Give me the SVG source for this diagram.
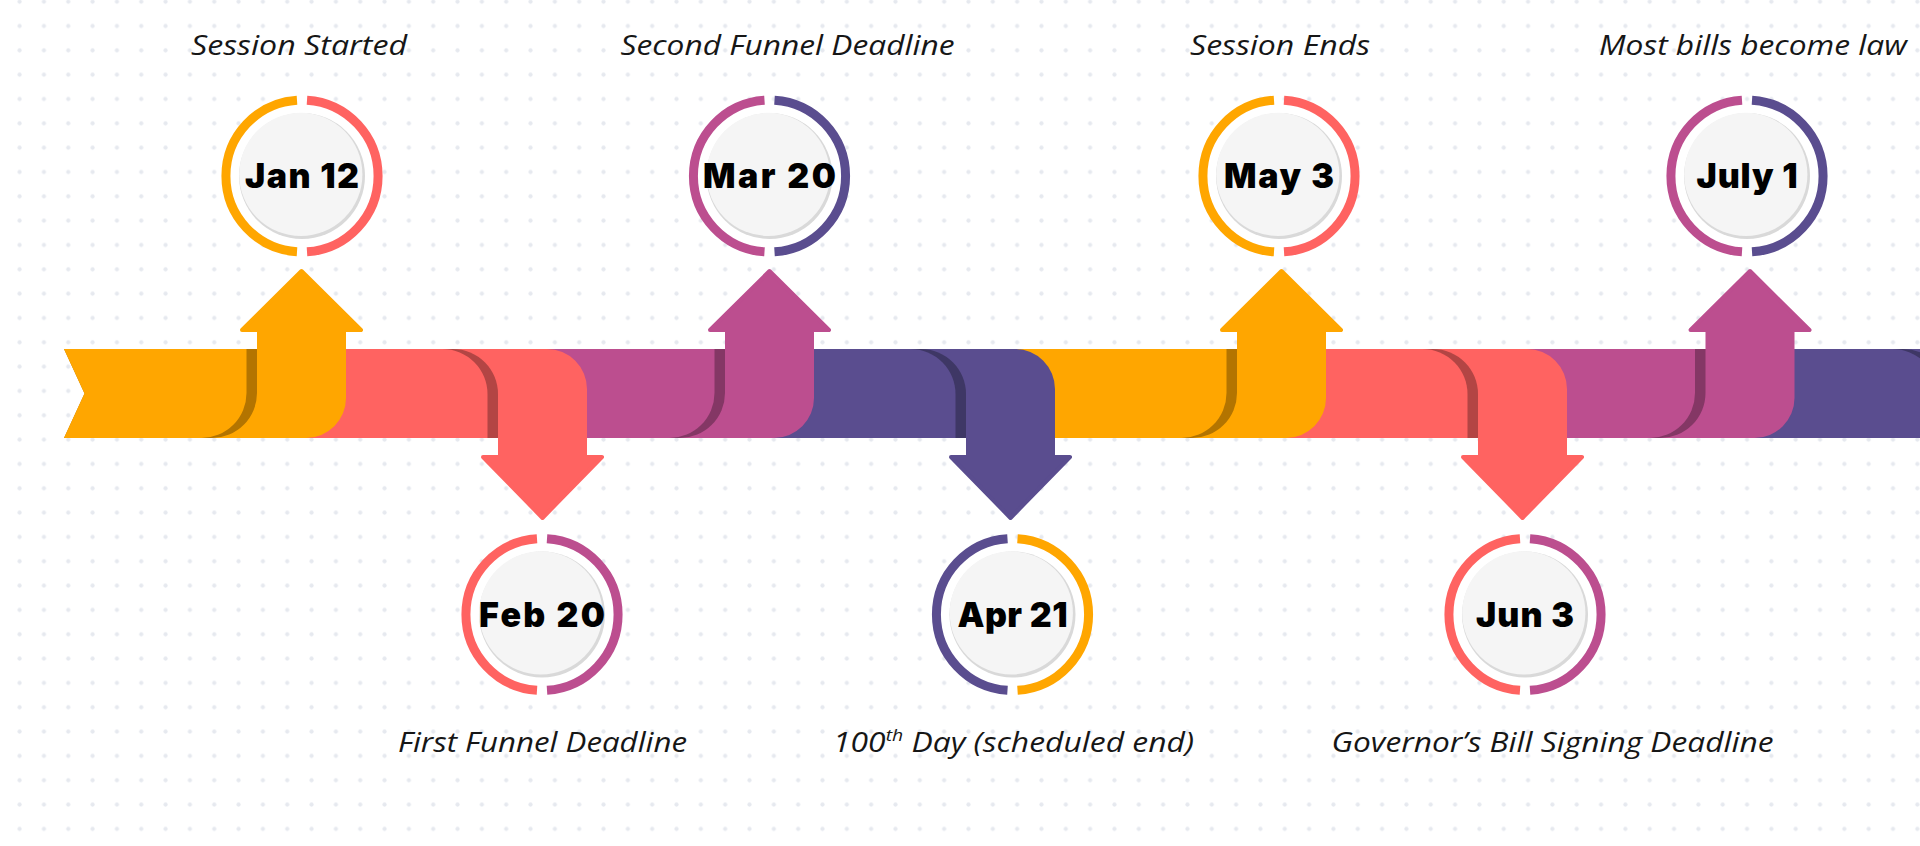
<svg xmlns="http://www.w3.org/2000/svg" width="1920" height="846" viewBox="0 0 1920 846">
<defs>
<pattern id="dots" x="7.435" y="-10.465" width="24.33" height="24.33" patternUnits="userSpaceOnUse">
<circle cx="12.165" cy="12.165" r="2.1" fill="#e6e9ef"/>
</pattern>
<style>
.lbl{font-family:"Open Sans",Lato,"Liberation Sans",sans-serif;font-style:italic;font-size:28px;fill:#161616;text-anchor:middle}
.date{font-family:Inter,"Open Sans","Liberation Sans",sans-serif;font-weight:900;font-size:34px;fill:#000;text-anchor:middle}
.ring{fill:none;stroke-width:9}
.or{fill:#ffa600}.rd{fill:#ff6361}.pu{fill:#bc4e8f}.dp{fill:#5a4d8f}
.ors{fill:#b37400}.rds{fill:#b34544}.pus{fill:#843765}.dps{fill:#3e3765}
.s-or{stroke:#ffa600}.s-rd{stroke:#ff6361}.s-pu{stroke:#bc4e8f}.s-dp{stroke:#5a4d8f}
.head{stroke-width:4;stroke-linejoin:round}
.ho{stroke:#ffa600}.hr{stroke:#ff6361}.hp{stroke:#bc4e8f}.hd{stroke:#5a4d8f}
</style>
</defs>
<rect width="1920" height="846" fill="#ffffff"/>
<rect width="1920" height="846" fill="url(#dots)"/>

<g id="connectors">
<!-- segment 8 (dark purple, continues off the right edge) -->
<path class="dp" d="M1890,349 H1990 V438 H1890 Z"/>
<path class="dps" d="M1748,349 H1903 A45,45 0 0 1 1948,394 V438 H1748 Z"/>
<path class="dp" d="M1748,349 H1892.5 A45,45 0 0 1 1937.5,394 V438 H1748 Z"/>
<!-- arrow 7 up, purple -->
<path class="pu" d="M1705.5,332 H1794.5 V398 A40,40 0 0 1 1754.5,438 H1650 V349 H1705.5 Z"/>
<polygon class="pu head hp" points="1690.5,330 1750,271 1809.5,330"/>
<path class="pus" d="M1520,349 H1705.5 V393 A45,45 0 0 1 1660.5,438 H1520 Z"/>
<path class="pu" d="M1520,349 H1695 V393 A45,45 0 0 1 1650,438 H1520 Z"/>
<!-- arrow 6 down, red -->
<path class="rd" d="M1423,349 H1527 A40,40 0 0 1 1567,389 V455 H1478 V438 H1423 Z"/>
<polygon class="rd head hr" points="1463,457 1522.5,518 1582,457"/>
<path class="rds" d="M1280,349 H1433 A45,45 0 0 1 1478,394 V438 H1280 Z"/>
<path class="rd" d="M1280,349 H1422.5 A45,45 0 0 1 1467.5,394 V438 H1280 Z"/>
<!-- arrow 5 up, orange -->
<path class="or" d="M1237,332 H1326 V398 A40,40 0 0 1 1286,438 H1182 V349 H1237 Z"/>
<polygon class="or head ho" points="1222,330 1281.5,271 1341,330"/>
<path class="ors" d="M1010,349 H1237 V393 A45,45 0 0 1 1192,438 H1010 Z"/>
<path class="or" d="M1010,349 H1226.5 V393 A45,45 0 0 1 1181.5,438 H1010 Z"/>
<!-- arrow 4 down, dark purple -->
<path class="dp" d="M911,349 H1015 A40,40 0 0 1 1055,389 V455 H966 V438 H911 Z"/>
<polygon class="dp head hd" points="951,457 1010.5,518 1070,457"/>
<path class="dps" d="M768,349 H921 A45,45 0 0 1 966,394 V438 H768 Z"/>
<path class="dp" d="M768,349 H910.5 A45,45 0 0 1 955.5,394 V438 H768 Z"/>
<!-- arrow 3 up, purple -->
<path class="pu" d="M725,332 H814 V398 A40,40 0 0 1 774,438 H670 V349 H725 Z"/>
<polygon class="pu head hp" points="710,330 769.5,271 829,330"/>
<path class="pus" d="M540,349 H725 V393 A45,45 0 0 1 680,438 H540 Z"/>
<path class="pu" d="M540,349 H714.5 V393 A45,45 0 0 1 669.5,438 H540 Z"/>
<!-- arrow 2 down, red -->
<path class="rd" d="M443,349 H547 A40,40 0 0 1 587,389 V455 H498 V438 H443 Z"/>
<polygon class="rd head hr" points="483,457 542.5,518 602,457"/>
<path class="rds" d="M300,349 H453 A45,45 0 0 1 498,394 V438 H300 Z"/>
<path class="rd" d="M300,349 H442.5 A45,45 0 0 1 487.5,394 V438 H300 Z"/>
<!-- arrow 1 up, orange -->
<path class="or" d="M257,332 H346 V398 A40,40 0 0 1 306,438 H202 V349 H257 Z"/>
<polygon class="or head ho" points="242,330 301.5,271 361,330"/>
<path class="ors" d="M64,349 H257 V393 A45,45 0 0 1 212,438 H64 L84.5,393.5 Z"/>
<path class="or" d="M64,349 H246.5 V393 A45,45 0 0 1 201.5,438 H64 L84.5,393.5 Z"/>
</g>

<g id="node-jan12" transform="translate(302,176)">
<circle r="72" fill="#fff"/>
<path class="ring s-or" d="M-5,-75.84 A76,76 0 0 0 -5,75.84"/>
<path class="ring s-rd" d="M5,-75.84 A76,76 0 0 1 5,75.84"/>
<circle r="63" fill="#d9d9d9"/>
<circle cx="-1.2" cy="-1.6" r="61.6" fill="#f5f5f5"/>
<text class="date" x="0" y="12" textLength="114">Jan 12</text>
<text class="lbl" x="-3" y="-121" textLength="216" lengthAdjust="spacingAndGlyphs">Session Started</text>
</g>

<g id="node-feb20" transform="translate(542,614.5)">
<circle r="72" fill="#fff"/>
<path class="ring s-rd" d="M-5,-75.84 A76,76 0 0 0 -5,75.84"/>
<path class="ring s-pu" d="M5,-75.84 A76,76 0 0 1 5,75.84"/>
<circle r="63" fill="#d9d9d9"/>
<circle cx="-1.2" cy="-1.6" r="61.6" fill="#f5f5f5"/>
<text class="date" x="0" y="12" textLength="126">Feb 20</text>
<text class="lbl" x="0.5" y="137.5" textLength="289" lengthAdjust="spacingAndGlyphs">First Funnel Deadline</text>
</g>

<g id="node-mar20" transform="translate(769.5,176)">
<circle r="72" fill="#fff"/>
<path class="ring s-pu" d="M-5,-75.84 A76,76 0 0 0 -5,75.84"/>
<path class="ring s-dp" d="M5,-75.84 A76,76 0 0 1 5,75.84"/>
<circle r="63" fill="#d9d9d9"/>
<circle cx="-1.2" cy="-1.6" r="61.6" fill="#f5f5f5"/>
<text class="date" x="0" y="12" textLength="133">Mar 20</text>
<text class="lbl" x="18" y="-121" textLength="334" lengthAdjust="spacingAndGlyphs">Second Funnel Deadline</text>
</g>

<g id="node-apr21" transform="translate(1012.5,614.5)">
<circle r="72" fill="#fff"/>
<path class="ring s-dp" d="M-5,-75.84 A76,76 0 0 0 -5,75.84"/>
<path class="ring s-or" d="M5,-75.84 A76,76 0 0 1 5,75.84"/>
<circle r="63" fill="#d9d9d9"/>
<circle cx="-1.2" cy="-1.6" r="61.6" fill="#f5f5f5"/>
<text class="date" x="0" y="12" textLength="110">Apr 21</text>
<text class="lbl" x="1" y="137.5" textLength="361" lengthAdjust="spacingAndGlyphs">100<tspan font-size="17" dy="-11">th</tspan><tspan dy="11"> Day (scheduled end)</tspan></text>
</g>

<g id="node-may3" transform="translate(1279,176)">
<circle r="72" fill="#fff"/>
<path class="ring s-or" d="M-5,-75.84 A76,76 0 0 0 -5,75.84"/>
<path class="ring s-rd" d="M5,-75.84 A76,76 0 0 1 5,75.84"/>
<circle r="63" fill="#d9d9d9"/>
<circle cx="-1.2" cy="-1.6" r="61.6" fill="#f5f5f5"/>
<text class="date" x="0" y="12" textLength="110">May 3</text>
<text class="lbl" x="1" y="-121" textLength="180" lengthAdjust="spacingAndGlyphs">Session Ends</text>
</g>

<g id="node-jun3" transform="translate(1525,614.5)">
<circle r="72" fill="#fff"/>
<path class="ring s-rd" d="M-5,-75.84 A76,76 0 0 0 -5,75.84"/>
<path class="ring s-pu" d="M5,-75.84 A76,76 0 0 1 5,75.84"/>
<circle r="63" fill="#d9d9d9"/>
<circle cx="-1.2" cy="-1.6" r="61.6" fill="#f5f5f5"/>
<text class="date" x="0" y="12" textLength="98">Jun 3</text>
<text class="lbl" x="27.5" y="137.5" textLength="442" lengthAdjust="spacingAndGlyphs">Governor’s Bill Signing Deadline</text>
</g>

<g id="node-july1" transform="translate(1747,176)">
<circle r="72" fill="#fff"/>
<path class="ring s-pu" d="M-5,-75.84 A76,76 0 0 0 -5,75.84"/>
<path class="ring s-dp" d="M5,-75.84 A76,76 0 0 1 5,75.84"/>
<circle r="63" fill="#d9d9d9"/>
<circle cx="-1.2" cy="-1.6" r="61.6" fill="#f5f5f5"/>
<text class="date" x="0" y="12" textLength="101">July 1</text>
<text class="lbl" x="6" y="-121" textLength="308" lengthAdjust="spacingAndGlyphs">Most bills become law</text>
</g>
</svg>
